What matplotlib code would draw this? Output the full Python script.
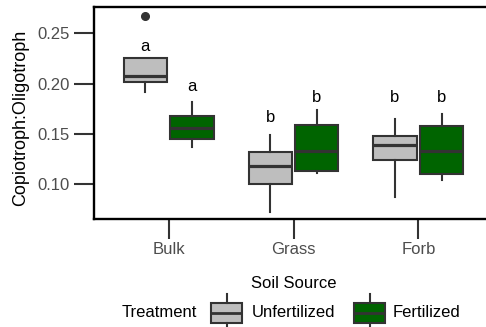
import matplotlib
matplotlib.use("Agg")
import matplotlib.pyplot as plt
from matplotlib.patches import Rectangle
from matplotlib.lines import Line2D

plt.rcParams['font.family'] = ['Liberation Sans', 'DejaVu Sans']

# ---- data ----
soil_sources = ["Bulk", "Grass", "Forb"]
treatments = ["Unfertilized", "Fertilized"]
colors = {"Unfertilized": "#BEBEBE", "Fertilized": "#006400"}

# five-number summaries: (whislo, q1, med, q3, whishi)
unfert_stats = [(0.1914, 0.2013, 0.2079, 0.2252, 0.2252),
                (0.0728, 0.1003, 0.1182, 0.1324, 0.1490),
                (0.0877, 0.1241, 0.1390, 0.1483, 0.1644)]
fert_stats = [(0.1374, 0.1447, 0.1556, 0.1678, 0.1815),
              (0.1116, 0.1135, 0.1334, 0.1589, 0.1738),
              (0.1043, 0.1102, 0.1334, 0.1579, 0.1698)]
unfert_outliers = [[0.2672], [], []]
fert_outliers = [[], [], []]

# significance letters and their baseline heights
unfert_letters = ["a", "b", "b"]
unfert_letter_y = [0.2327, 0.1622, 0.1820]
fert_letters = ["a", "b", "b"]
fert_letter_y = [0.1927, 0.1820, 0.1820]

yticks = [0.10, 0.15, 0.20, 0.25]
ytick_labels = ["0.10", "0.15", "0.20", "0.25"]

# ---- figure ----
W, H = 486, 327
fig = plt.figure(figsize=(W / 100, H / 100), dpi=100)

def fx(px):
    return px / W

def fy(py):
    return 1 - py / H

ax = fig.add_axes([fx(93.7), fy(219.3), (493.3 - 93.7) / W, (219.3 - 7.3) / H])

edge = "#333333"
dodge = 0.1875
bw = 0.345

def make_stats(stats, outliers):
    out = []
    for (lo, q1, med, q3, hi), fl in zip(stats, outliers):
        out.append(dict(whislo=lo, q1=q1, med=med, q3=q3, whishi=hi, fliers=fl))
    return out

groups = [("Unfertilized", unfert_stats, unfert_outliers, -dodge, unfert_letters, unfert_letter_y),
          ("Fertilized", fert_stats, fert_outliers, dodge, fert_letters, fert_letter_y)]

for name, stats, outl, off, letters, ly in groups:
    pos = [i + 1 + off for i in range(len(soil_sources))]
    ax.bxp(make_stats(stats, outl), positions=pos, widths=bw, patch_artist=True,
           showcaps=False,
           boxprops=dict(facecolor=colors[name], edgecolor=edge, linewidth=1.5),
           medianprops=dict(color=edge, linewidth=2.3, solid_capstyle='butt'),
           whiskerprops=dict(color=edge, linewidth=1.5),
           flierprops=dict(marker='o', markerfacecolor=edge, markeredgecolor=edge,
                           markersize=5.5))
    for p, t, y in zip(pos, letters, ly):
        ax.text(p, y, t, ha='center', va='baseline', fontsize=12, color='black')

ax.set_xlim(0.4, 3.6)
ax.set_ylim(0.0652, 0.2758)
ax.set_xticks([1, 2, 3])
ax.set_xticklabels(soil_sources)
ax.set_yticks(yticks)
ax.set_yticklabels(ytick_labels)
ax.tick_params(axis='both', length=14.4, width=1.5, color=edge, labelcolor='#4D4D4D',
               labelsize=12)
ax.tick_params(axis='x', pad=2.0)
ax.tick_params(axis='y', pad=2.9)
for s in ax.spines.values():
    s.set_linewidth(1.7)
    s.set_color('black')

fig.text(fx(21), fy(118), "Copiotroph:Oligotroph", rotation=90, ha='center', va='center',
         fontsize=13, color='black')
fig.text(fx(293.5), fy(288), "Soil Source", ha='center', va='baseline', fontsize=12,
         color='black')

# ---- legend (drawn in figure pixel space) ----
fig.text(fx(121.7), fy(317.3), "Treatment", ha='left', va='baseline', fontsize=12, color='black')
keys = [("Unfertilized", 211, 251.7), ("Fertilized", 354.3, 393)]
for name, kx, tx in keys:
    kw = 31
    top, bot, med = 302.5, 322.5, 312.5
    cx = kx + kw / 2
    fig.add_artist(Line2D([fx(cx), fx(cx)], [fy(294), fy(top)], transform=fig.transFigure,
                          color=edge, lw=1.5))
    fig.add_artist(Line2D([fx(cx), fx(cx)], [fy(bot), fy(330)], transform=fig.transFigure,
                          color=edge, lw=1.5))
    fig.add_artist(Rectangle((fx(kx), fy(bot)), fx(kw), (bot - top) / H,
                             transform=fig.transFigure, facecolor=colors[name],
                             edgecolor=edge, lw=1.5))
    fig.add_artist(Line2D([fx(kx), fx(kx + kw)], [fy(med), fy(med)], transform=fig.transFigure,
                          color=edge, lw=2.0, solid_capstyle='butt'))
    fig.text(fx(tx), fy(317.3), name, ha='left', va='baseline', fontsize=12, color='black')

fig.savefig("out.png", dpi=100)
